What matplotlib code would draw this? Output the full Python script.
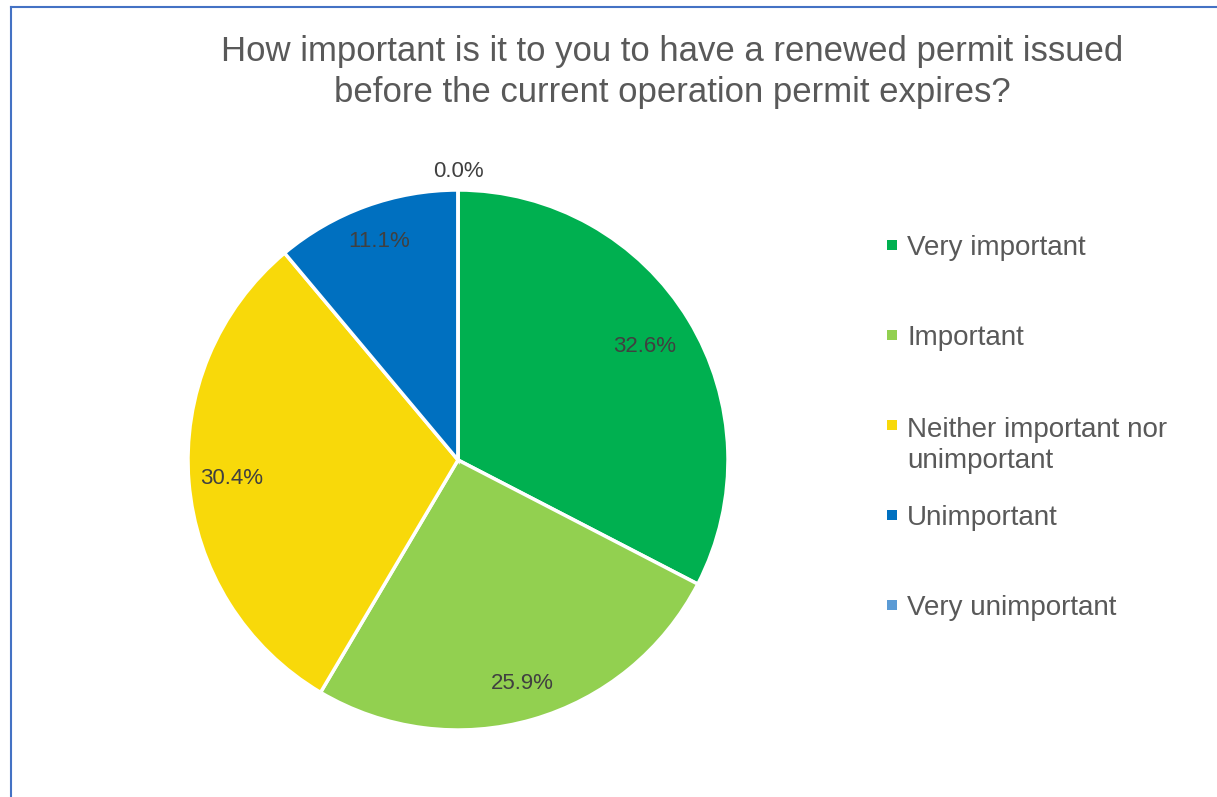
import matplotlib.pyplot as plt
import numpy as np
from matplotlib.lines import Line2D
from matplotlib.patches import Rectangle

# survey answers
labels = ["Very important", "Important", "Neither important nor\nunimportant",
          "Unimportant", "Very unimportant"]
shares = [32.6, 25.9, 30.4, 11.1, 0.0]
colors = ["#00B050", "#92D050", "#F8D90A", "#0070C0", "#5B9BD5"]

W, H = 1217, 797
fig = plt.figure(figsize=(W / 100, H / 100), dpi=100)

# pie axes: center (458,460) px, radius 270 px
cx, cy, r = 458, 460, 270
ax = fig.add_axes([(cx - r) / W, (H - cy - r) / H, 2 * r / W, 2 * r / H])
wedges, texts, autotexts = ax.pie(shares, colors=colors, startangle=90, counterclock=False,
                                  autopct='%1.1f%%', radius=1,
                                  wedgeprops=dict(edgecolor='white', linewidth=2.5),
                                  textprops=dict(color='#404040', fontsize=16,
                                                 family='Liberation Sans'))
ax.set_xlim(-1, 1)
ax.set_ylim(-1, 1)
ax.set_aspect('equal')
ax.axis('off')

# label distances (best fit look)
dists = [0.81, 0.86, 0.84, 0.86, 1.07]
for w, t, d in zip(wedges, autotexts, dists):
    ang = np.deg2rad((w.theta1 + w.theta2) / 2)
    t.set_position((d * np.cos(ang), d * np.sin(ang)))
    t.set_ha('center')
    t.set_va('center')

# title
fig.text(672 / W, 1 - 72 / H,
         "How important is it to you to have a renewed permit issued\nbefore the current operation permit expires?",
         ha='center', va='center', fontsize=25, color='#595959',
         family='Liberation Sans', linespacing=1.27)

# legend drawn by hand
for i, (lab, col) in enumerate(zip(labels, colors)):
    base = 255 + 90 * i
    extra = 33 * lab.count('\n')
    fig.patches.append(Rectangle((887 / W, 1 - (base - 5) / H), 10 / W, 10 / H,
                                 facecolor=col, edgecolor='none',
                                 transform=fig.transFigure, figure=fig))
    fig.text(907 / W, 1 - (base + extra) / H, lab, ha='left', va='baseline', fontsize=20,
             color='#595959', family='Liberation Sans', linespacing=1.25)

# chart border (left and top edges)
fig.add_artist(Line2D([11 / W, 11 / W], [0, 1 - 7 / H], color='#4472C4', lw=1.5,
                      transform=fig.transFigure))
fig.add_artist(Line2D([11 / W, 1], [1 - 7 / H, 1 - 7 / H], color='#4472C4', lw=1.5,
                      transform=fig.transFigure))

fig.savefig("out.png", dpi=100)
